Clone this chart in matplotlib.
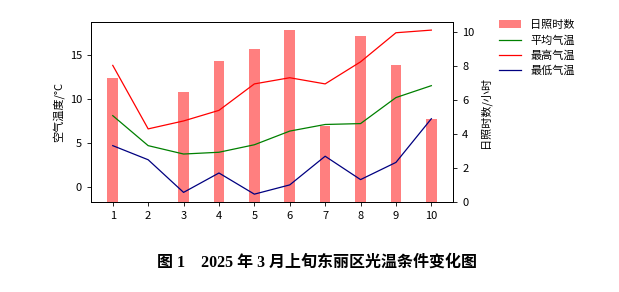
import matplotlib.pyplot as plt
import numpy as np

plt.rcParams['font.family'] = ['Noto Sans CJK SC', 'DejaVu Sans']
plt.rcParams['axes.unicode_minus'] = False

days = np.arange(1, 11)
sunshine = [7.3, 0, 6.5, 8.3, 9.0, 10.1, 4.5, 9.8, 8.1, 4.9]
t_mean = [8.1, 4.7, 3.75, 3.95, 4.8, 6.35, 7.1, 7.2, 10.15, 11.5]
t_max = [13.8, 6.6, 7.5, 8.7, 11.7, 12.4, 11.7, 14.2, 17.5, 17.8]
t_min = [4.7, 3.1, -0.6, 1.6, -0.8, 0.25, 3.5, 0.85, 2.8, 7.75]

fig = plt.figure(figsize=(6.19, 2.92), dpi=100)
ax = fig.add_axes([0.147, 0.307, 0.585, 0.618])
ax2 = ax.twinx()

b = ax2.bar(days, sunshine, width=0.3, color='red', alpha=0.5, label='日照时数')
l1, = ax.plot(days, t_mean, color='green', lw=0.9, label='平均气温')
l2, = ax.plot(days, t_max, color='red', lw=0.9, label='最高气温')
l3, = ax.plot(days, t_min, color='navy', lw=0.9, label='最低气温')

# lines above the bars
ax.set_zorder(ax2.get_zorder() + 1)
ax.patch.set_visible(False)

ax.set_xticks(days)
ax.set_yticks([0, 5, 10, 15])
ax2.set_yticks([0, 2, 4, 6, 8, 10])
ax.tick_params(labelsize=8, length=3, width=0.6)
ax2.tick_params(labelsize=8, length=3, width=0.6)
ax.set_ylabel('空气温度/°C', fontsize=8, labelpad=4)
ax2.set_ylabel('日照时数/小时', fontsize=8, labelpad=4)
for a in (ax, ax2):
    for s in a.spines.values():
        s.set_linewidth(0.7)

fig.legend([b, l1, l2, l3], ['日照时数', '平均气温', '最高气温', '最低气温'],
           loc='upper left', bbox_to_anchor=(0.79, 0.965), frameon=False,
           fontsize=8, handlelength=2.0, labelspacing=0.42)

fig.text(0.512, 0.099, '图 1    2025 年 3 月上旬东丽区光温条件变化图', ha='center', va='center',
         fontsize=11.5, fontweight='bold', family=['Liberation Serif', 'Noto Sans CJK SC'])

fig.savefig('out.png', dpi=100)
